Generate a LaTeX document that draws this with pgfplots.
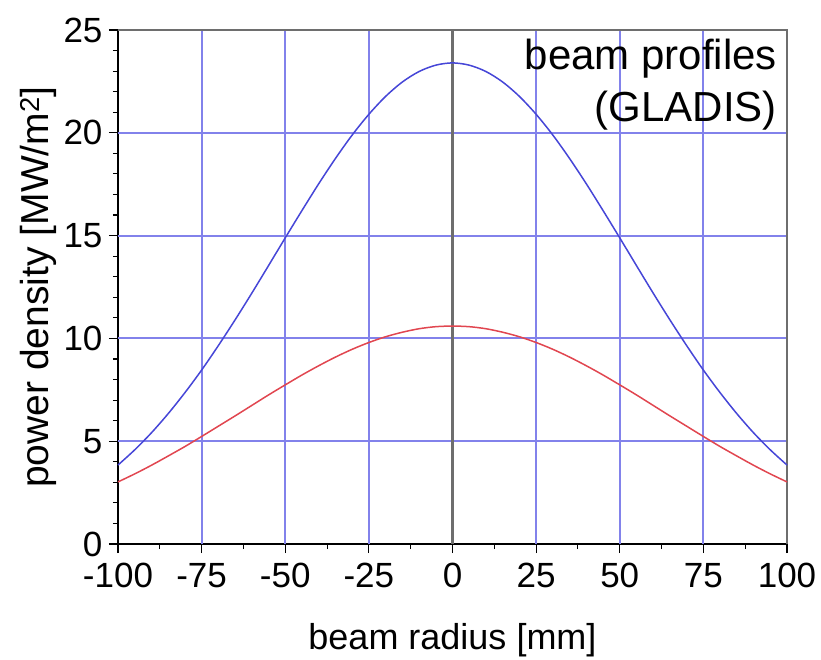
\documentclass[border=0pt]{standalone}
\usepackage{pgfplots}
\pgfplotsset{compat=1.18}
\usepackage{fontspec}
\setmainfont{Liberation Sans}
\definecolor{gridblue}{RGB}{130,130,235}
\definecolor{curveblue}{RGB}{70,70,215}
\definecolor{curvered}{RGB}{225,70,80}
\definecolor{framegray}{RGB}{110,110,110}
\begin{document}
\begin{tikzpicture}
\path[use as bounding box] (-118pt,-115pt) rectangle (703pt,544pt);
\begin{axis}[
  anchor=south west, at={(0pt,0pt)},
  scale only axis, width=669pt, height=514pt,
  xmin=-100, xmax=100, ymin=0, ymax=25,
  axis x line*=bottom, axis y line*=left,
  axis line style={-, black, line width=1.3pt},
  xtick={-100,-75,-50,-25,0,25,50,75,100},
  xticklabels={-100,-75,-50,-25,0,25,50,75,100},
  ytick={0,5,10,15,20,25},
  yticklabels={0,5,10,15,20,25},
  minor x tick num=1, minor y tick num=4,
  tick align=outside,
  major tick length=9pt, minor tick length=5pt,
  tick style={black, line width=1.1pt},
  ticklabel style={font=\fontsize{35}{40}\selectfont},
  xticklabel style={yshift=-7pt},
  yticklabel style={xshift=-3pt},
  xlabel={beam radius [mm]},
  ylabel={power density [MW/m\textsuperscript{2}]},
  xlabel style={font=\fontsize{36}{40}\selectfont, at={(axis description cs:0.5,0)}, anchor=center, yshift=-96pt},
  ylabel style={font=\fontsize{39}{44}\selectfont, at={(axis description cs:0,0.5)}, anchor=center, yshift=80pt},
  clip=false,
]
\foreach \gx in {-75,-50,-25,25,50,75} {
  \edef\tmp{\noexpand\draw[gridblue, line width=2pt] (axis cs:\gx,0) -- (axis cs:\gx,25);}\tmp
}
\foreach \gy in {5,10,15,20} {
  \edef\tmp{\noexpand\draw[gridblue, line width=2pt] (axis cs:-100,\gy) -- (axis cs:100,\gy);}\tmp
}
\draw[framegray, line width=2.4pt] (axis cs:0,0) -- (axis cs:0,25);
\draw[framegray, line width=2.4pt] (axis cs:-100,25) -- (axis cs:100,25) -- (axis cs:100,0);
\addplot[curveblue, line width=1.5pt, smooth] coordinates {
(-100,3.84) (-95,4.58) (-90,5.41) (-85,6.34) (-80,7.36) (-75,8.46) (-70,9.65) (-65,10.90) (-60,12.20) (-55,13.54) (-50,14.89) (-45,16.22) (-40,17.52) (-35,18.75) (-30,19.89) (-25,20.90) (-20,21.77) (-15,22.47) (-10,22.98) (-5,23.29) (0,23.40)
(5,23.29) (10,22.98) (15,22.47) (20,21.77) (25,20.90) (30,19.89) (35,18.75) (40,17.52) (45,16.22) (50,14.89) (55,13.54) (60,12.20) (65,10.90) (70,9.65) (75,8.46) (80,7.36) (85,6.34) (90,5.41) (95,4.58) (100,3.84)
};
\addplot[curvered, line width=1.5pt, smooth] coordinates {
(-100,3.02) (-95,3.41) (-90,3.83) (-85,4.28) (-80,4.74) (-75,5.23) (-70,5.73) (-65,6.23) (-60,6.74) (-55,7.25) (-50,7.74) (-45,8.22) (-40,8.67) (-35,9.09) (-30,9.47) (-25,9.80) (-20,10.08) (-15,10.30) (-10,10.47) (-5,10.57) (0,10.60)
(5,10.57) (10,10.47) (15,10.30) (20,10.08) (25,9.80) (30,9.47) (35,9.09) (40,8.67) (45,8.22) (50,7.74) (55,7.25) (60,6.74) (65,6.23) (70,5.73) (75,5.23) (80,4.74) (85,4.28) (90,3.83) (95,3.41) (100,3.02)
};
\node[anchor=north east, align=right, inner sep=0pt, font=\fontsize{42}{52}\selectfont] at ([xshift=-10pt,yshift=-9pt]rel axis cs:1,1) {beam profiles\\(GLADIS)};
\end{axis}
\end{tikzpicture}
\end{document}
